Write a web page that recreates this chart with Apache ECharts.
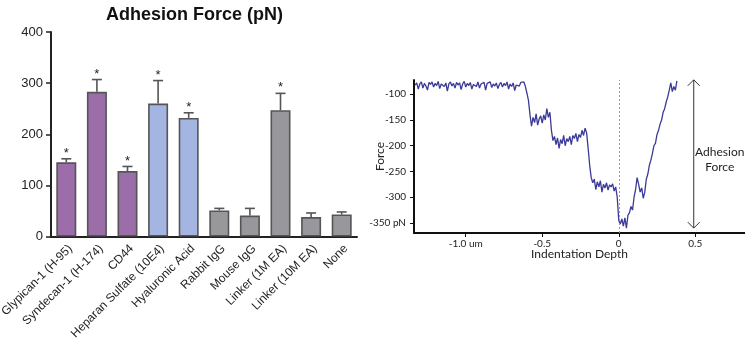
<!DOCTYPE html>
<html>
<head>
<meta charset="utf-8">
<script src="https://cdn.jsdelivr.net/npm/echarts@6/dist/echarts.min.js"></script>
<style>html,body{margin:0;padding:0;background:#fff}#c{width:745px;height:350px}</style>
</head>
<body>
<div id="c"></div>
<script>
// ---- Left panel: adhesion force bar chart ----
const categories = ['Glypican-1 (H-95)','Syndecan-1 (H-174)','CD44','Heparan Sulfate (10E4)','Hyaluronic Acid','Rabbit IgG','Mouse IgG','Linker (1M EA)','Linker (10M EA)','None'];
const barValues = [145, 283, 128, 260, 232, 51, 41, 247, 38, 43];
const errorTops = [152, 307, 137, 305, 242, 55, 55, 280, 46, 48];
const significant = [true, true, true, true, true, false, false, true, false, false];
const groups = ['proteoglycan','proteoglycan','proteoglycan','glycan','glycan','control','control','control','control','control'];

// ---- Right panel: force curve ----
const depth = [-1.33,-1.32,-1.31,-1.30,-1.29,-1.28,-1.27,-1.26,-1.25,-1.24,-1.23,-1.22,-1.21,-1.20,-1.19,-1.18,-1.17,-1.16,-1.15,-1.14,-1.13,-1.12,-1.11,-1.10,-1.09,-1.08,-1.07,-1.06,-1.05,-1.04,-1.03,-1.02,-1.01,-1.00,-0.99,-0.98,-0.97,-0.96,-0.95,-0.94,-0.93,-0.92,-0.91,-0.90,-0.89,-0.88,-0.87,-0.86,-0.85,-0.84,-0.83,-0.82,-0.81,-0.80,-0.79,-0.78,-0.77,-0.76,-0.75,-0.74,-0.73,-0.72,-0.71,-0.70,-0.69,-0.68,-0.67,-0.66,-0.65,-0.64,-0.63,-0.62,-0.61,-0.60,-0.59,-0.58,-0.57,-0.56,-0.55,-0.54,-0.53,-0.52,-0.51,-0.50,-0.49,-0.48,-0.47,-0.46,-0.45,-0.44,-0.43,-0.42,-0.41,-0.40,-0.39,-0.38,-0.37,-0.36,-0.35,-0.34,-0.33,-0.32,-0.31,-0.30,-0.29,-0.28,-0.27,-0.26,-0.25,-0.24,-0.23,-0.22,-0.21,-0.20,-0.19,-0.18,-0.17,-0.16,-0.15,-0.14,-0.13,-0.12,-0.11,-0.10,-0.09,-0.08,-0.07,-0.06,-0.05,-0.04,-0.03,-0.02,-0.01,0.00,0.01,0.02,0.03,0.04,0.05,0.06,0.07,0.08,0.09,0.10,0.11,0.12,0.13,0.14,0.15,0.16,0.17,0.18,0.19,0.20,0.21,0.22,0.23,0.24,0.25,0.26,0.27,0.28,0.29,0.30,0.31,0.32,0.33,0.34,0.35,0.36,0.37,0.38];
const force = [-82,-78,-90,-80,-76,-88,-79,-84,-92,-77,-81,-76,-86,-79,-83,-75,-89,-80,-77,-85,-78,-94,-80,-76,-84,-79,-88,-77,-82,-78,-91,-80,-75,-86,-79,-83,-77,-90,-81,-78,-85,-76,-88,-80,-83,-77,-92,-79,-82,-76,-87,-80,-84,-78,-89,-81,-77,-86,-79,-83,-76,-90,-80,-85,-78,-93,-82,-79,-84,-77,-80,-76,
-85,-98,-112,-140,-162,-145,-155,-138,-160,-148,-142,-156,-140,-150,-128,-145,-135,-170,-190,-182,-198,-185,-205,-188,-196,-180,-200,-186,-192,-182,-198,-180,-186,-176,-192,-178,-184,-170,-180,-166,-175,-205,-238,-262,-272,-265,-285,-270,-280,-268,-290,-275,-282,-272,-286,-276,-280,-274,-288,-280,-300,
-345,-352,-342,-356,-340,-360,-335,-330,-318,-325,-300,-285,-262,-275,-290,-282,-302,-290,-265,-255,-238,-228,-215,-200,-195,-178,-170,-158,-150,-135,-128,-115,-105,-92,-78,-95,-85,-92,-74];
const depthTicks = [-1.0, -0.5, 0, 0.5];
const depthTickLabels = ['-1.0 um', '-0.5', '0', '0.5'];
const forceTicks = [-350, -300, -250, -200, -150, -100];
const forceTickLabels = ['-350 pN', '-300', '-250', '-200', '-150', '-100'];
const adhesionArrow = [[0.49, -72, -360]];

const groupColors = {proteoglycan: '#9b6ea9', glycan: '#a3b5e0', control: '#98979c'};
const sansL = 'Liberation Sans, Arial, sans-serif';
const sansR = 'Lato, Open Sans, sans-serif';

const chart = echarts.init(document.getElementById('c'), null, {renderer: 'canvas'});
const option = {
  animation: false,
  title: {
    text: 'Adhesion Force (pN)', left: 101, top: 1,
    textStyle: {fontFamily: sansL, fontWeight: 'bold', fontSize: 18, color: '#111'}
  },
  grid: [
    {left: 51, top: 32, width: 306, height: 204.5, outerBoundsMode: 'none', containLabel: false},
    {left: 414, top: 80, width: 331, height: 153, outerBoundsMode: 'none', containLabel: false}
  ],
  xAxis: [
    {
      gridIndex: 0, type: 'category', data: categories,
      axisLine: {lineStyle: {color: '#222', width: 2}},
      axisTick: {alignWithLabel: true, length: 5, lineStyle: {color: '#222', width: 1.5}},
      axisLabel: {rotate: 45, fontFamily: sansL, fontSize: 12, color: '#222', margin: 6, verticalAlign: 'top', interval: 0, hideOverlap: false}
    },
    {
      gridIndex: 1, type: 'value', min: -1.338, max: 0.825,
      splitLine: {show: false},
      axisLine: {onZero: false, lineStyle: {color: '#111', width: 2}},
      axisTick: {customValues: depthTicks, length: 4, lineStyle: {color: '#111', width: 1}},
      axisLabel: {customValues: depthTicks, fontFamily: sansR, fontSize: 10, color: '#222', margin: 6,
        formatter: v => { const i = depthTicks.findIndex(t => Math.abs(t - v) < 1e-6); return i >= 0 ? depthTickLabels[i] : ''; }},
      name: 'Indentation Depth', nameLocation: 'middle', nameGap: 15, nameMoveOverlap: false,
      nameTextStyle: {fontFamily: sansR, fontSize: 12, color: '#222'}
    }
  ],
  yAxis: [
    {
      gridIndex: 0, type: 'value', min: 0, max: 400, interval: 100,
      splitLine: {show: false},
      axisLine: {show: true, lineStyle: {color: '#222', width: 2}},
      axisTick: {show: true, length: 5, lineStyle: {color: '#222', width: 1.5}},
      axisLabel: {fontFamily: sansL, fontSize: 13, color: '#222', margin: 8}
    },
    {
      gridIndex: 1, type: 'value', min: -369.5, max: -72.3,
      splitLine: {show: false},
      axisLine: {show: true, onZero: false, lineStyle: {color: '#111', width: 2}},
      axisTick: {show: true, customValues: forceTicks, length: 4, lineStyle: {color: '#111', width: 1}},
      axisLabel: {customValues: forceTicks, fontFamily: sansR, fontSize: 10, color: '#222', margin: 8,
        formatter: v => { const i = forceTicks.indexOf(v); return i >= 0 ? forceTickLabels[i] : ''; }},
      name: 'Force', nameLocation: 'middle', nameGap: 28, nameRotate: 90, nameMoveOverlap: false,
      nameTextStyle: {fontFamily: sansR, fontSize: 12, color: '#222'}
    }
  ],
  series: [
    {
      type: 'bar', xAxisIndex: 0, yAxisIndex: 0, barWidth: 20,
      data: barValues.map((v, i) => ({value: v, itemStyle: {color: groupColors[groups[i]]}})),
      itemStyle: {borderColor: '#555', borderWidth: 1.6},
      z: 2
    },
    {
      type: 'custom', xAxisIndex: 0, yAxisIndex: 0, z: 3,
      data: barValues.map((v, i) => [i, v, errorTops[i], significant[i] ? 1 : 0]),
      renderItem: (params, api) => {
        const base = api.coord([api.value(0), api.value(1)]);
        const top = api.coord([api.value(0), api.value(2)]);
        const hw = 5;
        const children = [
          {type: 'line', shape: {x1: top[0], y1: base[1], x2: top[0], y2: top[1]}, style: {stroke: '#555', lineWidth: 1.6}},
          {type: 'line', shape: {x1: top[0] - hw, y1: top[1], x2: top[0] + hw, y2: top[1]}, style: {stroke: '#555', lineWidth: 1.6}}
        ];
        if (api.value(3)) {
          children.push({type: 'text', x: top[0], y: top[1] + 1, style: {text: '*', fontFamily: sansL, fontSize: 13, fill: '#222', align: 'center', verticalAlign: 'bottom'}});
        }
        return {type: 'group', children};
      }
    },
    {
      type: 'line', xAxisIndex: 1, yAxisIndex: 1, showSymbol: false,
      data: depth.map((d, i) => [d, force[i]]),
      lineStyle: {color: '#3b3a99', width: 1.3},
      markLine: {
        silent: true, symbol: 'none', label: {show: false},
        lineStyle: {color: '#999', type: [2, 2], width: 1},
        data: [{xAxis: 0}]
      }
    },
    {
      type: 'custom', xAxisIndex: 1, yAxisIndex: 1, clip: false,
      data: adhesionArrow,
      renderItem: (params, api) => {
        const t = api.coord([api.value(0), api.value(1)]);
        const b = api.coord([api.value(0), api.value(2)]);
        const x = t[0];
        const st = {stroke: '#333', lineWidth: 1, fill: null};
        return {type: 'group', children: [
          {type: 'line', shape: {x1: x, y1: t[1], x2: x, y2: b[1]}, style: st},
          {type: 'polyline', shape: {points: [[x - 6, t[1] + 6], [x, t[1]], [x + 6, t[1] + 6]]}, style: st},
          {type: 'polyline', shape: {points: [[x - 6, b[1] - 6], [x, b[1]], [x + 6, b[1] - 6]]}, style: st},
          {type: 'text', x: x + 26, y: (t[1] + b[1]) / 2 + 6, style: {text: 'Adhesion\nForce', fontFamily: sansR, fontSize: 12, lineHeight: 15, fill: '#222', align: 'center', verticalAlign: 'middle'}}
        ]};
      }
    }
  ]
};
chart.setOption(option);
</script>
</body>
</html>
